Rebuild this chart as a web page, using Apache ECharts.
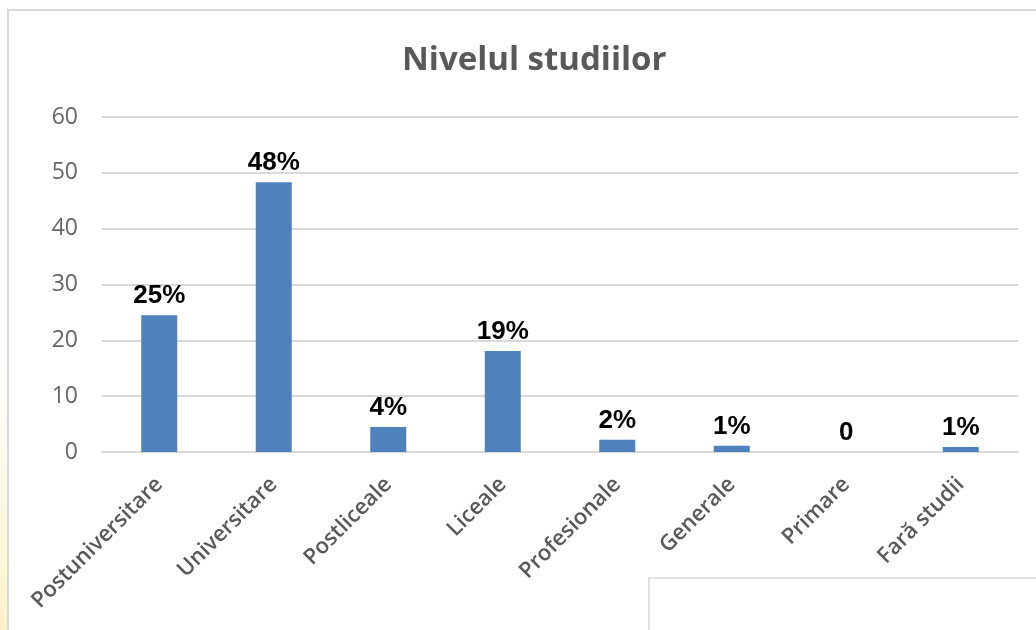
<!DOCTYPE html>
<html>
<head>
<meta charset="utf-8">
<script src="https://cdn.jsdelivr.net/npm/echarts@6/dist/echarts.min.js"></script>
<style>
  html, body { margin: 0; padding: 0; background: #fff; }
  #chart { width: 1036px; height: 630px; }
</style>
</head>
<body>
<div id="chart"></div>
<script>
// categorii si valori
const categories = ['Postuniversitare', 'Universitare', 'Postliceale', 'Liceale', 'Profesionale', 'Generale', 'Primare', 'Fară studii']
const values = [24.5, 48.3, 4.5, 18.1, 2.2, 1.1, 0, 0.9]
const labels = ['25%', '48%', '4%', '19%', '2%', '1%', '0', '1%']
const yTicks = [0, 10, 20, 30, 40, 50, 60]

const chart = echarts.init(document.getElementById('chart'))

const options = {
  backgroundColor: '#fff',
  animation: false,
  title: {
    text: 'Nivelul studiilor',
    left: 397,
    top: 39,
    textStyle: {
      fontFamily: 'Open Sans',
      fontSize: 33,
      fontWeight: 'bold',
      color: '#595959'
    }
  },
  grid: {
    left: 102,
    right: 18,
    top: 117,
    bottom: 178
  },
  xAxis: {
    type: 'category',
    data: categories,
    axisTick: { show: false },
    axisLine: { lineStyle: { color: '#d9d9d9', width: 2 } },
    axisLabel: {
      rotate: 45,
      margin: 29,
      interval: 0,
      fontFamily: 'Open Sans',
      fontSize: 22,
      fontWeight: 600,
      color: '#595959'
    }
  },
  yAxis: {
    type: 'value',
    min: yTicks[0],
    max: yTicks[yTicks.length - 1],
    interval: 10,
    axisLine: { show: false },
    axisTick: { show: false },
    splitLine: { lineStyle: { color: '#d9d9d9', width: 2 } },
    axisLabel: {
      margin: 24,
      fontFamily: 'Open Sans',
      fontSize: 23,
      color: '#666'
    }
  },
  series: [
    {
      type: 'bar',
      barWidth: 36,
      data: values,
      itemStyle: { color: '#4f81bd' },
      label: {
        show: true,
        position: 'top',
        distance: 6,
        fontFamily: 'Liberation Sans',
        fontWeight: 'bold',
        fontSize: 26,
        color: '#000',
        formatter: function (params) {
          return labels[params.dataIndex]
        }
      }
    }
  ],
  graphic: [
    // banda galbuie din stanga (fundalul slide-ului)
    {
      type: 'rect',
      shape: { x: 0, y: 360, width: 7, height: 270 },
      style: {
        fill: new echarts.graphic.LinearGradient(0, 0, 0, 1, [
          { offset: 0, color: '#ffffff' },
          { offset: 1, color: '#fbf3c8' }
        ])
      },
      silent: true
    },
    // chenarul graficului
    {
      type: 'rect',
      shape: { x: 8, y: 10, width: 1040, height: 640 },
      style: { fill: 'none', stroke: '#d9d9d9', lineWidth: 2 },
      silent: true
    },
    // caseta alba din dreapta jos
    {
      type: 'rect',
      shape: { x: 649, y: 578, width: 400, height: 80 },
      style: { fill: '#fff', stroke: '#d9d9d9', lineWidth: 1.5 },
      silent: true
    }
  ]
}

chart.setOption(options)
</script>
</body>
</html>
